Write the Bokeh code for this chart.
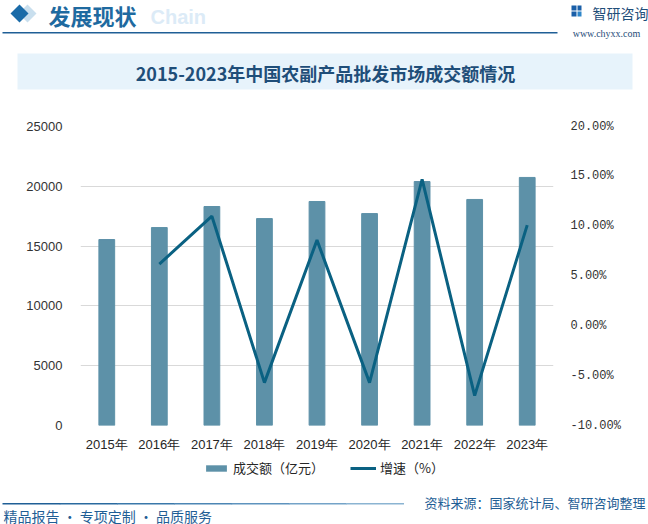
from bokeh.plotting import figure
from bokeh.layouts import column
from bokeh.models import (Range1d, LinearAxis, Legend, LegendItem, Label, FixedTicker,
                          CustomJSTickFormatter, ColumnDataSource)
from bokeh.embed import file_html
from bokeh.resources import INLINE

years = ["2015年", "2016年", "2017年", "2018年", "2019年", "2020年", "2021年", "2022年", "2023年"]
turnover = [15550, 16550, 18310, 17300, 18730, 17720, 20400, 18900, 20740]
growth_years = years[1:]
growth = [6.2, 11.0, -5.7, 8.6, -5.7, 14.7, -7.0, 10.1]
left_ticks = [0, 5000, 10000, 15000, 20000, 25000]
right_ticks = [-10, -5, 0, 5, 10, 15, 20]

title_text = "2015-2023年中国农副产品批发市场成交额情况"
bar_label = "成交额（亿元）"
line_label = "增速（%）"

W = 648
HEAD_H, MAIN_H = 100, 355
FOOT_H = 524 - HEAD_H - MAIN_H
FL, FR = 80, 553                      # frame left/right in px
FT, FB = 126 - HEAD_H, 425 - HEAD_H   # frame top/bottom within main figure

BAR_COLOR = "#5D91A8"
LINE_COLOR = "#0A6182"
CJK = "Noto Sans CJK SC"


def deco_fig(h, y0):
    f = figure(width=W, height=h, x_range=Range1d(0, W), y_range=Range1d(y0 + h, y0),
               output_backend="svg", toolbar_location=None,
               x_axis_location=None, y_axis_location=None,
               min_border=0, min_border_left=0, min_border_right=0,
               min_border_top=0, min_border_bottom=0, frame_align=False,
               background_fill_color="white", border_fill_color="white")
    f.outline_line_color = None
    f.xgrid.grid_line_color = None
    f.ygrid.grid_line_color = None
    return f


def text(f, x, y, s, size, color, font=CJK, style="normal", align="left", alpha=1.0):
    f.add_layout(Label(x=x, y=y, text=s, text_font=font, text_font_size=size,
                       text_color=color, text_font_style=style, text_align=align,
                       text_baseline="middle", text_alpha=alpha))


# ---------------- header ----------------
head = deco_fig(HEAD_H, 0)
head.patch([27, 36, 27, 18], [4, 13, 22, 13], fill_color="#C9DFEE", line_color=None)
head.patch([19, 28, 19, 10], [4, 13, 22, 13], fill_color="#1A6BA8", line_color=None)
text(head, 150, 16, "Chain", "20px", "#DCEBF7", font="Liberation Sans", style="bold")
text(head, 48, 14, "发展现状", "22px", "#1E6AA0", style="bold")
head.quad(left=2, right=557, top=31.5, bottom=33, fill_color="#1F5F96", line_color=None)
head.quad(left=[571, 577, 571, 577], right=[576, 581, 576, 581], top=[5, 5, 11, 11],
          bottom=[10, 10, 16, 16], fill_color=["#1A5FA8", "#1A5FA8", "#1A5FA8", "#2E86C9"],
          line_color=None)
text(head, 592, 12, "智研咨询", "14px", "#1F4E79")
text(head, 606, 33, "www.chyxx.com", "10px", "#1F4E79", font="Liberation Serif", align="center")
head.quad(left=17, right=632, top=53, bottom=89, fill_color="#E7F3FB", line_color=None)
text(head, 325, 72, title_text, "18px", "#1F4E79", style="bold", align="center")

# ---------------- main chart ----------------
p = figure(width=W, height=MAIN_H, x_range=years, y_range=Range1d(0, 25000),
           output_backend="svg", toolbar_location=None, frame_align=False,
           min_border_left=FL, min_border_right=W - FR,
           min_border_top=FT, min_border_bottom=MAIN_H - FB,
           background_fill_color="white", border_fill_color="white")
p.outline_line_color = None
p.xgrid.grid_line_color = None
p.ygrid.grid_line_color = "#D9D9D9"
p.ygrid.ticker = FixedTicker(ticks=left_ticks)
p.extra_y_ranges = {"pct": Range1d(-10, 20)}

p.vbar(x=years, top=turnover, width=0.3, color=BAR_COLOR)
p.line(x=growth_years, y=growth, y_range_name="pct", line_color=LINE_COLOR, line_width=3)

xa = p.xaxis[0]
xa.axis_line_color = None
xa.major_tick_line_color = None
xa.minor_tick_line_color = None
xa.major_label_text_font = "Liberation Sans"
xa.major_label_text_font_size = "13px"
xa.major_label_text_color = "#262626"
xa.major_label_standoff = 5

ya = p.yaxis[0]
ya.ticker = FixedTicker(ticks=left_ticks)
ya.axis_line_color = None
ya.major_tick_line_color = None
ya.minor_tick_line_color = None
ya.major_label_text_font = "Liberation Sans"
ya.major_label_text_font_size = "13px"
ya.major_label_text_color = "#333333"
ya.major_label_standoff = 12

ra = LinearAxis(y_range_name="pct", ticker=FixedTicker(ticks=right_ticks),
                formatter=CustomJSTickFormatter(code="return tick.toFixed(2) + '%';"))
ra.axis_line_color = None
ra.major_tick_line_color = None
ra.minor_tick_line_color = None
ra.major_label_text_font = "Liberation Mono"
ra.major_label_text_font_size = "12px"
ra.major_label_text_color = "#333333"
ra.major_label_standoff = 11
p.add_layout(ra, "right")

# ---------------- footer with legend ----------------
Y0 = HEAD_H + MAIN_H
foot = deco_fig(FOOT_H, Y0)
# legend proxies placed outside the visible range (legend swatches only)
proxy = ColumnDataSource(data=dict(x=[-60, -50], y=[Y0 - 20, Y0 - 20],
                                   l=[-60, -60], r=[-50, -50], t=[Y0 - 30, Y0 - 30],
                                   b=[Y0 - 20, Y0 - 20]))
bar_proxy = foot.quad(left="l", right="r", top="t", bottom="b", source=proxy,
                      fill_color=BAR_COLOR, line_color=None)
line_proxy = foot.line(x="x", y="y", source=proxy, line_color=LINE_COLOR, line_width=3)
legend = Legend(items=[LegendItem(label=bar_label, renderers=[bar_proxy]),
                       LegendItem(label=line_label, renderers=[line_proxy])],
                location=(203, 524 - 477), orientation="horizontal",
                padding=0, margin=0, spacing=26, label_standoff=4,
                glyph_width=26, glyph_height=8,
                border_line_alpha=0, background_fill_alpha=0,
                label_text_font=CJK, label_text_font_size="13px", label_text_color="#262626")
foot.add_layout(legend)

seg_colors = ["#1F5F96", "#2A6A9F", "#3A78AA", "#4C86B4", "#5E93BE", "#74A3C8", "#8BB4D2"]
seg_w = 401 / len(seg_colors)
foot.quad(left=[2 + i * seg_w for i in range(len(seg_colors))],
          right=[2 + (i + 1) * seg_w + 0.5 for i in range(len(seg_colors))],
          top=502.5, bottom=504, fill_color=seg_colors, line_color=None)
text(foot, 3, 515, "精品报告 · 专项定制 · 品质服务", "14px", "#1F5E95")
text(foot, 645, 502, "资料来源：国家统计局、智研咨询整理", "13px", "#1F5E95", align="right")

layout = column(head, p, foot, spacing=0)
open("out.html", "w").write(file_html(layout, INLINE))
